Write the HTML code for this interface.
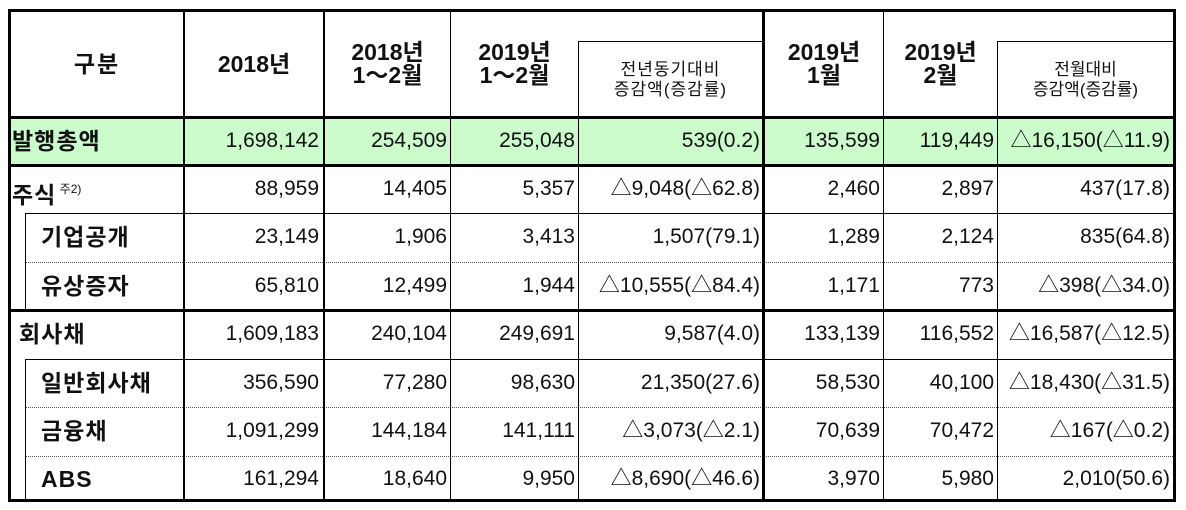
<!DOCTYPE html>
<html><head><meta charset="utf-8"><style>
body{margin:0;width:1186px;height:510px;background:#fff;position:relative;overflow:hidden;font-family:"Liberation Sans","Noto Sans CJK KR",sans-serif;color:#111}
.l{position:absolute;background:#000}
.d{position:absolute;border-top:1px dotted #555;height:0}
.t{position:absolute;font-size:21px;line-height:48px;height:48px;white-space:nowrap}
.r{text-align:right}
.b{font-weight:bold;font-size:23px;letter-spacing:1px}
.h{position:absolute;font-weight:bold;font-size:23px;line-height:23px;text-align:center}
.s{position:absolute;font-size:17px;line-height:20px;text-align:center}
</style></head><body>
<div style="position:absolute;left:9px;top:117px;width:1165px;height:48px;background:#ccfccc"></div>
<div class="l" style="left:8px;top:9px;width:1168px;height:3px"></div>
<div class="l" style="left:8px;top:116px;width:1168px;height:3px"></div>
<div class="l" style="left:8px;top:164px;width:1168px;height:3px"></div>
<div class="l" style="left:8px;top:309px;width:1168px;height:3px"></div>
<div class="l" style="left:8px;top:499px;width:1168px;height:3px"></div>
<div class="l" style="left:25px;top:213px;width:1150px;height:1px"></div>
<div class="l" style="left:25px;top:359px;width:1150px;height:1px"></div>
<div class="d" style="left:25px;top:262px;width:1150px"></div>
<div class="d" style="left:25px;top:407px;width:1150px"></div>
<div class="d" style="left:25px;top:456px;width:1150px"></div>
<div class="l" style="left:578px;top:41px;width:186px;height:1px"></div>
<div class="l" style="left:997px;top:41px;width:178px;height:1px"></div>
<div class="l" style="left:8px;top:9px;width:3px;height:493px"></div>
<div class="l" style="left:1173px;top:9px;width:3px;height:493px"></div>
<div class="l" style="left:183px;top:9px;width:2px;height:493px"></div>
<div class="l" style="left:323px;top:9px;width:2px;height:493px"></div>
<div class="l" style="left:450px;top:9px;width:1px;height:493px"></div>
<div class="l" style="left:762px;top:9px;width:3px;height:493px"></div>
<div class="l" style="left:883px;top:9px;width:1px;height:493px"></div>
<div class="l" style="left:578px;top:41px;width:1px;height:461px"></div>
<div class="l" style="left:997px;top:41px;width:1px;height:461px"></div>
<div class="l" style="left:25px;top:213px;width:1px;height:97px"></div>
<div class="l" style="left:25px;top:359px;width:1px;height:141px"></div>
<div class="h" style="left:11px;top:53px;width:172px;letter-spacing:2px">구분</div>
<div class="h" style="left:185px;top:53px;width:138px">2018년</div>
<div class="h" style="left:325px;top:41px;width:125px">2018년<br>1～2월</div>
<div class="h" style="left:451px;top:41px;width:127px">2019년<br>1～2월</div>
<div class="s" style="left:579px;top:60px;width:183px;letter-spacing:1px">전년동기대비<br>증감액(증감률)</div>
<div class="h" style="left:765px;top:41px;width:118px">2019년<br>1월</div>
<div class="h" style="left:884px;top:41px;width:113px">2019년<br>2월</div>
<div class="s" style="left:998px;top:60px;width:175px">전월대비<br>증감액(증감률)</div>
<div class="t b" style="left:12px;top:117px">발행총액</div>
<div class="t b" style="left:12px;top:165px">주식<sup style="font-size:12px;font-weight:normal;vertical-align:10px;letter-spacing:0"> 주2)</sup></div>
<div class="t b" style="left:41px;top:213px">기업공개</div>
<div class="t b" style="left:41px;top:262px">유상증자</div>
<div class="t b" style="left:19px;top:310px">회사채</div>
<div class="t b" style="left:41px;top:359px">일반회사채</div>
<div class="t b" style="left:41px;top:407px">금융채</div>
<div class="t b" style="left:41px;top:455px">ABS</div>
<div id="data"></div>
<script>
var cols=[[185,319],[325,447],[451,575],[579,760],[765,880],[884,994],[998,1170]];
var rows=[117,165,213,262,310,359,407,455];
var D=[
["1,698,142","254,509","255,048","539(0.2)","135,599","119,449","△16,150(△11.9)"],
["88,959","14,405","5,357","△9,048(△62.8)","2,460","2,897","437(17.8)"],
["23,149","1,906","3,413","1,507(79.1)","1,289","2,124","835(64.8)"],
["65,810","12,499","1,944","△10,555(△84.4)","1,171","773","△398(△34.0)"],
["1,609,183","240,104","249,691","9,587(4.0)","133,139","116,552","△16,587(△12.5)"],
["356,590","77,280","98,630","21,350(27.6)","58,530","40,100","△18,430(△31.5)"],
["1,091,299","144,184","141,111","△3,073(△2.1)","70,639","70,472","△167(△0.2)"],
["161,294","18,640","9,950","△8,690(△46.6)","3,970","5,980","2,010(50.6)"]];
var h="";
for(var i=0;i<8;i++)for(var j=0;j<7;j++){
h+='<div class="t r" style="left:'+cols[j][0]+'px;width:'+(cols[j][1]-cols[j][0])+'px;top:'+rows[i]+'px">'+D[i][j]+'</div>';}
document.getElementById("data").innerHTML=h;
</script>
</body></html>
